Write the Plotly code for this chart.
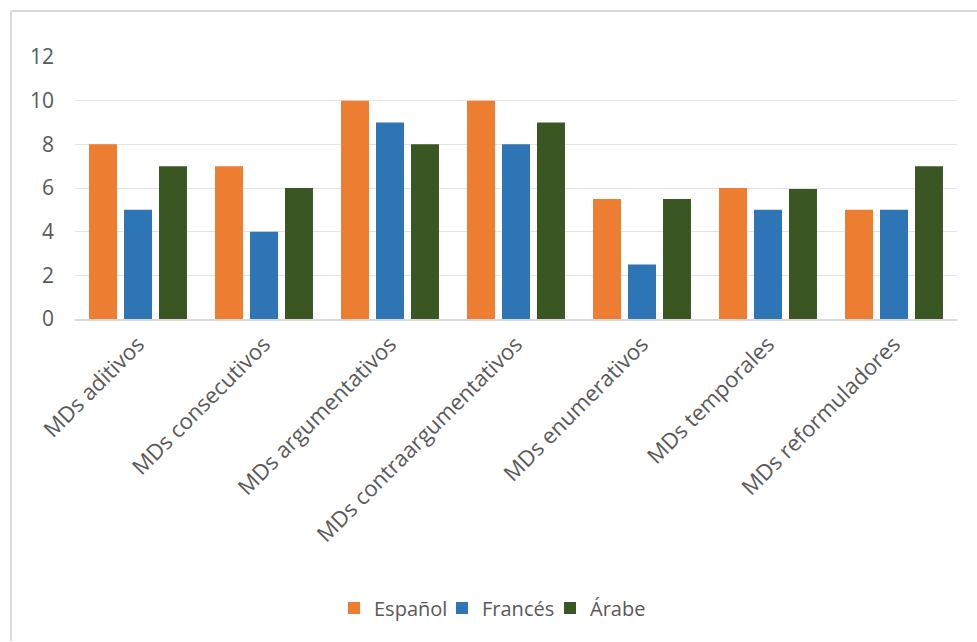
import plotly.graph_objects as go

categories = ["MDs aditivos", "MDs consecutivos", "MDs argumentativos",
              "MDs contraargumentativos", "MDs enumerativos", "MDs temporales",
              "MDs reformuladores"]
espanol = [8, 7, 10, 10, 5.5, 6, 5]
frances = [5, 4, 9, 8, 2.5, 5, 5]
arabe = [7, 6, 8, 9, 5.5, 5.95, 7]
series_names = ["Español", "Francés", "Árabe"]
colors = ["#ED7D31", "#2E75B6", "#3A5723"]

fig = go.Figure()
for name, vals, col in zip(series_names, [espanol, frances, arabe], colors):
    fig.add_trace(go.Bar(x=categories, y=vals, name=name,
                         marker=dict(color=col, line=dict(width=0))))

W, H = 977, 642
L, R, T, B = 75, 20, 57, 323
pw, ph = W - L - R, H - T - B

def px(x):
    return (x - L) / pw

def py(y):
    return (H - B - y) / ph

FONT = "Open Sans, sans-serif"
fig.update_layout(
    width=W, height=H,
    margin=dict(l=L, r=R, t=T, b=B),
    paper_bgcolor="white", plot_bgcolor="white",
    barmode="group", bargap=0.167, bargroupgap=0.2,
    font=dict(family=FONT, size=20, color="#595959"),
    showlegend=True,
    legend=dict(orientation="h", x=px(496), xanchor="center", y=py(608), yanchor="middle",
                font=dict(family=FONT, size=20, color="#595959"), itemwidth=30,
                entrywidth=63, entrywidthmode="pixels",
                traceorder="normal"),
    xaxis=dict(tickangle=-45, showgrid=False, showline=True, linecolor="#D9D9D9",
               linewidth=1.5, ticks="", tickfont=dict(family=FONT, size=22, color="#595959"),
               ticklabelstandoff=2),
    yaxis=dict(range=[0, 12], dtick=2, showgrid=True, gridcolor="#E3E3E3", gridwidth=1,
               zeroline=False, showline=False, ticks="",
               tickfont=dict(family=FONT, size=21, color="#595959"), ticklabelstandoff=20),
    shapes=[
        dict(type="line", xref="paper", yref="paper", x0=px(11), x1=px(11),
             y0=py(11), y1=py(641), line=dict(color="#D9D9D9", width=2)),
        dict(type="line", xref="paper", yref="paper", x0=px(11), x1=px(977),
             y0=py(11), y1=py(11), line=dict(color="#D9D9D9", width=2)),
    ],
)

fig.write_html("out.html")
